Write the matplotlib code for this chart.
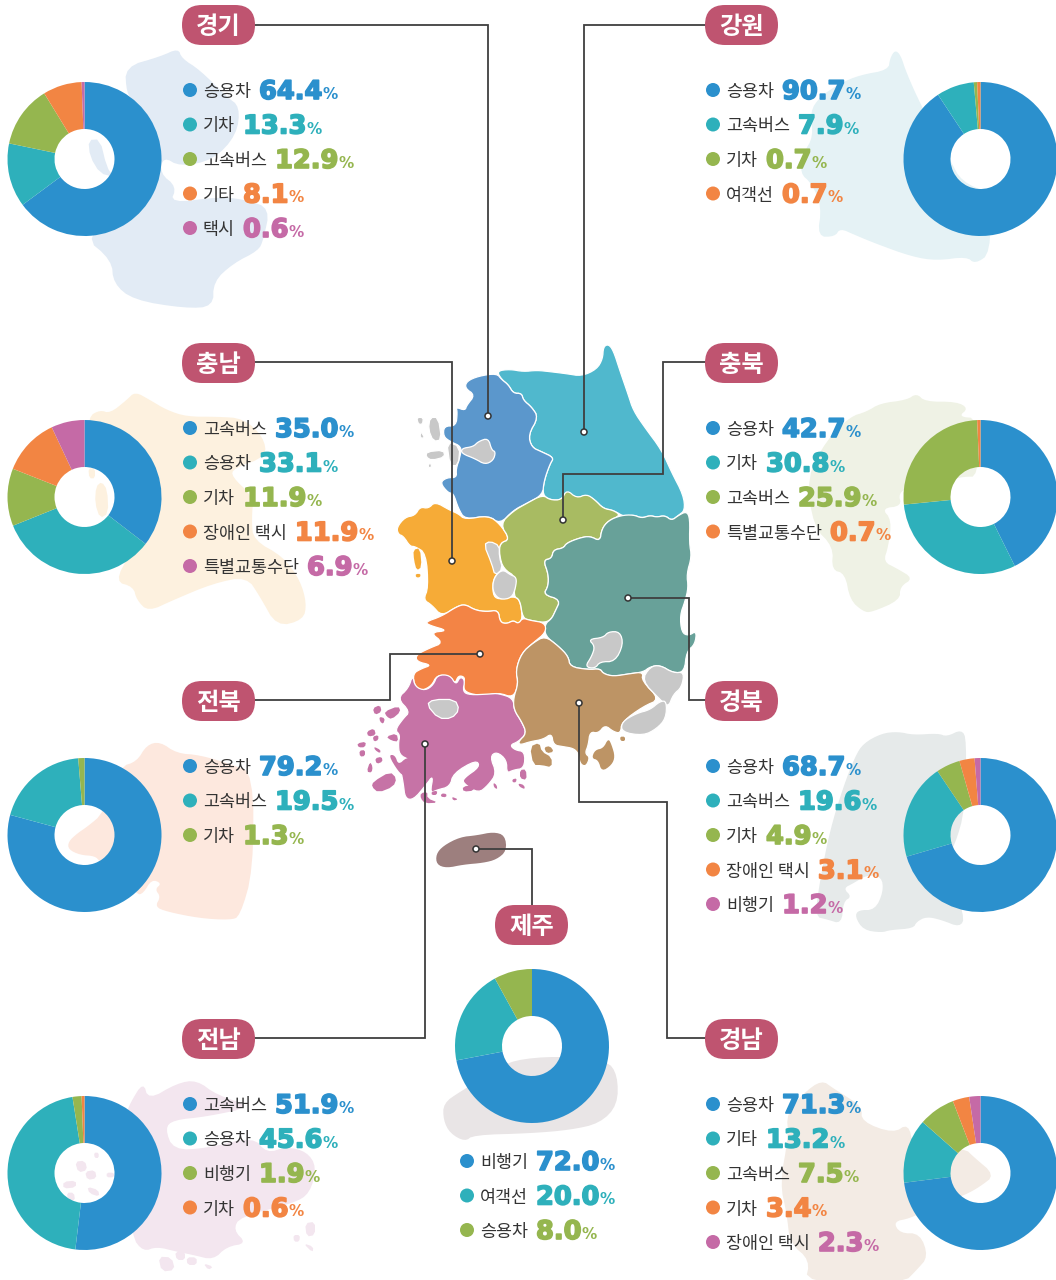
import matplotlib
matplotlib.use('Agg')
import matplotlib.pyplot as plt
from matplotlib.patches import Polygon, Circle, FancyBboxPatch
import matplotlib.patheffects as pe

plt.rcParams['font.family'] = ['Noto Sans CJK KR', 'DejaVu Sans']

W, H = 1056, 1280
palette = ['#2b90cd', '#2eb0bb', '#95b64f', '#f28543', '#c56aa6']

# chart data
gyeonggi_labels = ['승용차', '기차', '고속버스', '기타', '택시']
gyeonggi_values = [64.4, 13.3, 12.9, 8.1, 0.6]
gangwon_labels = ['승용차', '고속버스', '기차', '여객선']
gangwon_values = [90.7, 7.9, 0.7, 0.7]
chungnam_labels = ['고속버스', '승용차', '기차', '장애인 택시', '특별교통수단']
chungnam_values = [35.0, 33.1, 11.9, 11.9, 6.9]
chungbuk_labels = ['승용차', '기차', '고속버스', '특별교통수단']
chungbuk_values = [42.7, 30.8, 25.9, 0.7]
jeonbuk_labels = ['승용차', '고속버스', '기차']
jeonbuk_values = [79.2, 19.5, 1.3]
gyeongbuk_labels = ['승용차', '고속버스', '기차', '장애인 택시', '비행기']
gyeongbuk_values = [68.7, 19.6, 4.9, 3.1, 1.2]
jeonnam_labels = ['고속버스', '승용차', '비행기', '기차']
jeonnam_values = [51.9, 45.6, 1.9, 0.6]
gyeongnam_labels = ['승용차', '기타', '고속버스', '기차', '장애인 택시']
gyeongnam_values = [71.3, 13.2, 7.5, 3.4, 2.3]
jeju_labels = ['비행기', '여객선', '승용차']
jeju_values = [72.0, 20.0, 8.0]

fig = plt.figure(figsize=(W / 100, H / 100), dpi=100, facecolor='white')
ax = fig.add_axes([0, 0, 1, 1])
ax.set_xlim(0, W)
ax.set_ylim(H, 0)
ax.axis('off')
renderer = fig.canvas.get_renderer()


def crop(points, x0, y0, sy=1 / 3):
    # outlines were traced on 3x crops of the picture
    return [(x0 + x / 3, y0 + y * sy) for x, y in points]


def zoomed(points):
    return crop(points, 350, 340, 0.344)


def south(points):
    return crop(points, 350, 670)


def smooth(points, n=2):
    for _ in range(n):
        new = []
        for i in range(len(points)):
            x1, y1 = points[i]
            x2, y2 = points[(i + 1) % len(points)]
            new.append((0.75 * x1 + 0.25 * x2, 0.75 * y1 + 0.25 * y2))
            new.append((0.25 * x1 + 0.75 * x2, 0.25 * y1 + 0.75 * y2))
        points = new
    return points


def shape(points, color, edge='white', z=2):
    # small blobs lose too much area if they are rounded twice
    n = 1 if len(points) < 8 else 2
    ax.add_patch(Polygon(smooth(points, n), closed=True, facecolor=color, edgecolor=edge,
                         linewidth=0.9, joinstyle='round', zorder=z))


# pale region shapes behind the donuts
bg_shapes = [
    ('#e2ebf5', crop([(375, 200), (480, 170), (535, 145), (545, 175), (600, 210), (680, 290), (720, 320), (710, 405),
                      (640, 480), (540, 500), (490, 470), (480, 520), (530, 560), (510, 610), (660, 590), (740, 600),
                      (810, 625), (790, 720), (775, 752), (700, 790), (640, 845), (640, 920), (555, 925), (400, 900),
                      (340, 850), (335, 780), (250, 710), (400, 600), (400, 300), (380, 280)], 0, 0)),
    ('#e2ebf5', crop([(265, 420), (300, 418), (320, 500), (340, 530), (300, 520), (270, 470)], 0, 0)),
    ('#e5f2f5', crop([(330, 55), (345, 30), (362, 45), (378, 95), (420, 190), (510, 360), (545, 425), (630, 460), (632, 640),
                      (585, 672), (560, 650), (470, 662), (395, 650), (285, 610), (225, 585), (180, 565), (165, 590),
                      (112, 590), (125, 500), (95, 430), (60, 400), (70, 340), (100, 290), (90, 215), (120, 170),
                      (180, 130), (240, 105), (325, 90)], 780, 40)),
    ('#fdf1df', crop([(265, 110), (300, 90), (330, 100), (380, 60), (405, 35), (450, 60), (500, 90), (560, 110),
                      (650, 110), (730, 115), (790, 170), (800, 230), (700, 265), (695, 290), (760, 350), (755, 420),
                      (760, 480), (850, 530), (900, 600), (920, 670), (910, 720), (830, 740), (780, 650), (740, 590),
                      (640, 610), (520, 660), (445, 695), (410, 660), (400, 620), (345, 605), (390, 520), (350, 430),
                      (345, 300), (330, 250), (265, 200)], 0, 380)),
    ('#fdf1df', crop([(288, 320), (305, 305), (322, 330), (325, 400), (300, 415), (285, 370)], 0, 380)),
    ('#fdf1df', crop([(265, 265), (285, 265), (285, 295), (268, 295)], 0, 380)),
    ('#eff2e5', crop([(80, 180), (150, 110), (200, 95), (240, 70), (320, 60), (350, 40), (375, 65), (470, 65),
                      (505, 85), (475, 110), (535, 115), (535, 290), (490, 290), (450, 300), (330, 320), (295, 340),
                      (305, 378), (245, 385), (275, 420), (265, 500), (250, 545), (290, 565), (340, 595), (300, 620),
                      (300, 660), (215, 697), (190, 695), (150, 660), (135, 580), (95, 570), (100, 500), (40, 440),
                      (20, 290)], 800, 380)),
    ('#fde8de', crop([(360, 110), (410, 95), (440, 45), (480, 35), (530, 70), (600, 75), (700, 105), (760, 130),
                      (760, 420), (720, 560), (690, 570), (600, 565), (500, 545), (465, 530), (482, 500), (465, 478),
                      (485, 460), (455, 448), (430, 490), (410, 495), (340, 400), (300, 395), (285, 378), (240, 375),
                      (205, 358), (205, 335), (232, 310), (262, 290), (310, 250)], 0, 730)),
    ('#e6eaea', crop([(135, 110), (160, 70), (215, 40), (265, 35), (310, 45), (385, 40), (410, 50), (455, 28), (470, 60),
                      (465, 270), (435, 375), (405, 420), (465, 590), (450, 622), (395, 600), (350, 590), (320, 605),
                      (310, 625), (240, 630), (215, 638), (160, 630), (135, 590), (145, 570), (195, 570), (220, 515),
                      (215, 470), (170, 465), (130, 490), (100, 505), (125, 530), (100, 545), (95, 612), (50, 598),
                      (15, 590), (30, 480), (60, 330), (100, 200)], 810, 720)),
    ('#f3e6ef', crop([(390, 100), (430, 35), (445, 90), (530, 40), (590, 30), (650, 75), (760, 110), (620, 140),
                      (520, 150), (495, 175), (520, 240), (620, 235), (760, 200), (800, 250), (860, 230), (920, 245),
                      (950, 290), (930, 370), (880, 400), (720, 440), (700, 480), (740, 520), (680, 530), (640, 570),
                      (580, 555), (530, 545), (470, 530), (430, 545), (395, 500), (380, 300), (380, 130)], 0, 1070)),
    ('#f3ebe4', crop([(80, 130), (130, 70), (185, 30), (220, 55), (260, 80), (305, 110), (305, 155), (400, 190),
                      (445, 160), (460, 230), (615, 235), (640, 260), (705, 315), (660, 350), (615, 375), (500, 420),
                      (450, 445), (400, 455), (420, 490), (480, 490), (505, 560), (470, 600), (430, 640), (135, 640),
                      (150, 570), (90, 520), (80, 430), (60, 340), (85, 200)], 760, 1070)),
    ('#e9e5e6', crop([(40, 430), (90, 395), (200, 330), (250, 300), (380, 288), (530, 300), (563, 345), (563, 435),
                      (510, 490), (420, 510), (300, 520), (130, 525), (105, 545), (60, 520), (40, 480)], 430, 960)),
]
# small island blobs of the pale Jeonnam shape
jeonnam_bg_islands = [[(225, 275), (255, 272), (262, 300), (235, 308)], [(255, 305), (285, 300), (290, 325), (262, 330)],
                      [(190, 335), (228, 332), (228, 352), (190, 356)], [(262, 350), (295, 360), (298, 380), (268, 370)],
                      [(200, 368), (222, 368), (225, 392), (205, 392)], [(320, 308), (342, 308), (342, 322), (320, 322)],
                      [(282, 248), (296, 248), (296, 264), (284, 264)], [(475, 560), (515, 562), (525, 600), (485, 605)],
                      [(560, 562), (590, 562), (590, 585), (562, 585)], [(610, 580), (640, 590), (625, 600)],
                      [(525, 545), (555, 545), (555, 570), (530, 570)], [(880, 495), (900, 495), (898, 515), (882, 515)],
                      [(915, 460), (945, 455), (945, 495), (920, 500)], [(910, 520), (940, 530), (938, 548)]]
for color, pts in bg_shapes:
    shape(pts, color, edge='none', z=1)
for pts in jeonnam_bg_islands:
    shape(crop(pts, 0, 1070), '#f3e6ef', edge='none', z=1)

# map regions
gangwon_shape = [(440, 90), (480, 85), (520, 92), (560, 88), (600, 92), (650, 98), (695, 105), (740, 85), (758, 55),
                 (760, 20), (775, 12), (790, 30), (810, 90), (835, 160), (850, 205), (885, 255), (935, 320), (965, 385),
                 (1000, 450), (1005, 495), (985, 510), (965, 525), (945, 510), (920, 515), (900, 510), (875, 518),
                 (850, 508), (825, 515), (790, 495), (760, 490), (735, 465), (710, 450), (680, 460), (650, 440),
                 (635, 465), (600, 465), (578, 450), (582, 410), (600, 360), (612, 342), (575, 325), (545, 312),
                 (535, 275), (565, 225), (545, 195), (520, 175), (515, 155), (490, 155), (475, 130), (455, 115)]
gyeonggi_shape = [(440, 97), (455, 115), (475, 130), (490, 155), (515, 155), (520, 175), (545, 195), (565, 225),
                  (535, 275), (545, 312), (575, 325), (612, 342), (600, 360), (582, 410), (578, 450), (530, 475),
                  (490, 495), (450, 535), (415, 510), (345, 522), (325, 490), (310, 445), (295, 445), (270, 415),
                  (290, 400), (320, 400), (318, 375), (330, 340), (335, 310), (300, 295), (280, 280), (282, 250),
                  (318, 250), (322, 210), (318, 195), (345, 205), (350, 190), (375, 160), (345, 140), (350, 120), (385, 105)]
chungnam_shape = [(140, 545), (165, 515), (195, 510), (210, 485), (235, 490), (255, 470), (300, 495), (325, 505),
                  (345, 522), (415, 510), (450, 535), (480, 580), (450, 590), (447, 625), (460, 665), (430, 690),
                  (428, 740), (445, 755), (490, 745), (510, 755), (518, 810), (505, 825), (490, 815), (470, 825),
                  (450, 820), (445, 785), (410, 790), (375, 785), (345, 768), (320, 775), (275, 803), (245, 770),
                  (220, 755), (235, 720), (228, 620), (195, 600), (180, 600), (160, 570), (145, 565)]
chungbuk_shape = [(450, 535), (490, 497), (530, 475), (578, 450), (600, 465), (635, 465), (650, 435), (680, 460),
                  (710, 448), (735, 465), (760, 490), (790, 495), (812, 510), (775, 525), (755, 550), (750, 585),
                  (720, 570), (690, 575), (650, 590), (640, 605), (610, 610), (605, 635), (580, 640), (595, 680),
                  (595, 715), (580, 740), (632, 755), (615, 790), (605, 810), (585, 822), (540, 815), (518, 808),
                  (510, 755), (490, 745), (500, 690), (460, 665), (448, 625), (450, 590), (480, 580)]
gyeongbuk_shape = [(812, 510), (850, 508), (875, 518), (900, 510), (920, 515), (945, 510), (965, 525), (985, 510),
                   (1010, 498), (1020, 520), (1018, 590), (1025, 630), (1010, 680), (1015, 720), (1005, 760), (990, 800),
                   (995, 850), (1015, 860), (1040, 845), (1035, 885), (1010, 905), (1003, 965), (970, 968), (930, 945),
                   (900, 950), (880, 965), (840, 970), (790, 978), (760, 970), (750, 955), (715, 958), (660, 950),
                   (655, 920), (625, 890), (585, 860), (585, 825), (605, 810), (615, 790), (632, 755), (580, 740),
                   (595, 715), (595, 680), (580, 640), (605, 635), (610, 610), (640, 605), (650, 590), (690, 575),
                   (720, 570), (750, 585), (755, 550), (775, 525)]
jeonbuk_shape = [(225, 820), (275, 803), (320, 775), (345, 768), (375, 785), (410, 790), (445, 785), (450, 820),
                 (470, 825), (490, 815), (505, 825), (518, 808), (540, 815), (585, 822), (588, 850), (550, 880),
                 (515, 910), (497, 960), (505, 1000), (490, 1040), (445, 1025), (400, 1035), (345, 1025), (340, 1000),
                 (345, 980), (325, 975), (315, 1000), (295, 975), (260, 975), (245, 1005), (215, 1020), (195, 1010),
                 (188, 970), (215, 955), (245, 945), (200, 935), (198, 915), (240, 895), (280, 880), (240, 850),
                 (295, 845), (240, 830)]
jeonnam_shape = [(188, 15), (195, 50), (225, 62), (250, 45), (262, 15), (300, 15), (318, 45), (330, 20), (345, 30),
                 (338, 65), (360, 75), (420, 72), (445, 70), (490, 85), (492, 120), (515, 155), (530, 190), (505, 215),
                 (480, 225), (495, 240), (525, 245), (523, 295), (490, 300), (470, 310), (470, 270), (440, 245),
                 (420, 260), (440, 310), (415, 345), (385, 370), (340, 340), (340, 325), (390, 290), (378, 270),
                 (310, 310), (300, 350), (260, 360), (240, 370), (250, 315), (228, 345), (190, 390), (165, 385),
                 (160, 340), (150, 290), (180, 270), (148, 255), (145, 220), (150, 195), (135, 180), (160, 145),
                 (180, 125), (142, 85), (175, 55)]
gyeongnam_shape = [(585, -102), (625, -72), (655, -41), (660, -10), (715, -1), (750, -4), (760, 11), (790, 19),
                   (840, 11), (880, 6), (875, 32), (930, 88), (880, 109), (815, 156), (812, 190), (790, 185),
                   (765, 165), (745, 190), (720, 185), (715, 225), (705, 250), (720, 262), (708, 290), (690, 282),
                   (685, 250), (670, 235), (640, 230), (610, 225), (605, 190), (580, 208), (540, 215), (510, 225),
                   (505, 215), (530, 190), (515, 155), (492, 120), (490, 85), (505, 40), (497, 1), (515, -51), (550, -82)]
jeju_shape = [(258, 1495), (280, 1470), (330, 1445), (380, 1440), (430, 1430), (465, 1440), (470, 1485), (440, 1510),
              (400, 1520), (340, 1525), (290, 1535), (260, 1525)]

shape(zoomed(gangwon_shape), '#50b8cd')
shape(zoomed(gyeonggi_shape), '#5b97cc')
shape(zoomed(chungnam_shape), '#f6ab37')
shape(zoomed(chungbuk_shape), '#a8bb62')
shape(zoomed(gyeongbuk_shape), '#68a199')
shape(zoomed(jeonbuk_shape), '#f38445')
shape(south(jeonnam_shape), '#c673a6')
shape(south(gyeongnam_shape), '#bd9465')
shape(zoomed(jeju_shape), '#9d7f7e', edge='none')

# cities and grey islands
grey_shapes = [
    [(335, 315), (370, 310), (385, 295), (415, 285), (425, 320), (437, 325), (430, 350), (405, 362), (375, 345), (335, 330)],
    [(290, 295), (330, 310), (325, 365), (300, 365)],
    [(240, 225), (265, 225), (275, 290), (250, 295), (235, 260)],
    [(200, 225), (220, 225), (218, 245), (205, 245)],
    [(212, 265), (225, 285), (210, 285)],
    [(230, 325), (280, 320), (285, 340), (245, 350), (228, 340)],
    [(235, 360), (245, 360), (243, 372), (235, 370)],
    [(402, 595), (420, 585), (448, 598), (448, 630), (458, 665), (435, 685), (425, 650)],
    [(440, 680), (460, 668), (480, 682), (500, 690), (497, 720), (485, 750), (450, 755), (430, 735), (428, 705)],
    [(715, 870), (760, 865), (775, 848), (810, 848), (820, 885), (795, 935), (750, 935), (735, 955), (705, 950), (725, 920), (735, 890)],
    [(875, 990), (900, 950), (930, 945), (970, 968), (1003, 965), (995, 1010), (970, 1030), (955, 1068), (930, 1045)],
    [(815, 1110), (860, 1085), (900, 1075), (930, 1050), (950, 1050), (948, 1100), (920, 1130), (880, 1150), (815, 1140)],
    [(230, 1060), (250, 1045), (315, 1045), (328, 1075), (305, 1100), (265, 1100)],
]
for pts in grey_shapes:
    shape(zoomed(pts), '#c8c8c8', z=3)

for pts in [[(190, 610), (210, 605), (215, 660), (200, 670), (192, 640)],
            [(197, 680), (212, 680), (210, 690), (198, 690)]]:
    shape(zoomed(pts), '#f6ab37', edge='none')

jeonnam_islands = [[(68, 115), (90, 105), (95, 125), (75, 135)], [(103, 125), (145, 108), (152, 125), (125, 148), (110, 140)],
                   [(88, 140), (105, 145), (100, 162), (90, 155)], [(50, 185), (72, 175), (78, 195), (55, 200)],
                   [(68, 200), (85, 195), (85, 210), (72, 215)], [(108, 200), (140, 190), (145, 215), (125, 212)],
                   [(22, 220), (48, 215), (45, 232), (25, 232)], [(28, 242), (45, 240), (45, 258), (30, 260)],
                   [(72, 230), (92, 240), (90, 250), (75, 240)], [(75, 265), (95, 260), (98, 275), (80, 282)],
                   [(60, 275), (68, 290), (65, 308), (50, 305)],
                   [(115, 255), (135, 255), (145, 285), (170, 262), (180, 272), (160, 290), (165, 320), (145, 305)],
                   [(70, 335), (120, 305), (140, 325), (130, 350), (85, 368), (65, 350)],
                   [(212, 370), (232, 365), (232, 385), (265, 398), (225, 400), (212, 385)],
                   [(245, 365), (262, 362), (260, 375), (245, 375)], [(275, 370), (290, 372), (288, 382), (272, 380)],
                   [(305, 380), (325, 388), (310, 392)], [(338, 350), (370, 345), (372, 362), (340, 365)],
                   [(430, 338), (440, 345), (442, 358), (432, 352)], [(487, 328), (500, 325), (498, 337), (488, 337)],
                   [(510, 300), (528, 298), (530, 330), (510, 325)], [(505, 340), (522, 345), (525, 358), (508, 350)]]
for pts in jeonnam_islands:
    shape(south(pts), '#c673a6', edge='none')

gyeongnam_islands = [[(540, 230), (568, 218), (575, 245), (605, 262), (605, 292), (575, 285), (550, 285)],
                     [(582, 232), (600, 228), (612, 245), (590, 250)],
                     [(735, 240), (760, 235), (775, 205), (785, 225), (795, 260), (785, 285), (755, 305), (745, 270), (725, 265)],
                     [(810, 200), (825, 200), (825, 213), (812, 213)]]
for pts in gyeongnam_islands:
    shape(south(pts), '#bd9465', edge='none')

# leader lines, ending in a white dot on the region
leaders = [
    [(255, 25), (488, 25), (488, 416)],
    [(706, 25), (584, 25), (584, 432)],
    [(255, 362), (452, 362), (452, 561)],
    [(706, 362), (663, 362), (663, 474), (563, 474), (563, 520)],
    [(255, 700), (390, 700), (390, 654), (480, 654)],
    [(706, 700), (689, 700), (689, 598), (628, 598)],
    [(255, 1038), (425, 1038), (425, 744)],
    [(706, 1038), (667, 1038), (667, 802), (579, 802), (579, 703)],
    [(532, 905), (532, 849), (476, 849)],
]
for pts in leaders:
    xs = [p[0] for p in pts]
    ys = [p[1] for p in pts]
    ax.plot(xs, ys, color='#3f3f3f', lw=1.3, zorder=5, solid_joinstyle='miter')
    ax.add_patch(Circle(pts[-1], 3, facecolor='white', edgecolor='#333333', lw=1.1, zorder=6))


def badge(x, y, name):
    ax.add_patch(FancyBboxPatch((x + 10, y + 10), 53, 20, boxstyle='round,pad=10,rounding_size=20',
                                linewidth=0, facecolor='#bf5470', zorder=7))
    ax.text(x + 36.5, y + 21.5, name, color='white', fontsize=17.5, fontweight='bold',
            ha='center', va='center', zorder=8)


def legend(x, y, labels, values):
    for i, (label, value) in enumerate(zip(labels, values)):
        c = palette[i]
        yy = y + i * 34.5
        ax.add_patch(Circle((x, yy), 7, facecolor=c, edgecolor='none', zorder=7))
        t = ax.text(x + 13, yy + 7, label, color='#333333', fontsize=12.5, ha='left', va='baseline', zorder=8)
        end = t.get_window_extent(renderer).x1
        stroke = [pe.withStroke(linewidth=1.2, foreground=c)]
        t2 = ax.text(end + 8, yy + 9, f'{value:.1f}', color=c, fontsize=18.5, fontweight='bold',
                     family='DejaVu Sans', ha='left', va='baseline', zorder=8, path_effects=stroke)
        end2 = t2.get_window_extent(renderer).x1
        ax.text(end2, yy + 9, '%', color=c, fontsize=11, fontweight='bold',
                family='DejaVu Sans', ha='left', va='baseline', zorder=8)


def donut(cx, cy, values, r=77, hole=30):
    pie_ax = fig.add_axes([(cx - r) / W, 1 - (cy + r) / H, 2 * r / W, 2 * r / H], zorder=4)
    pie_ax.patch.set_alpha(0)
    pie_ax.pie(values, colors=palette, startangle=90, counterclock=False, radius=1,
               wedgeprops={'width': 1 - hole / r, 'linewidth': 0})
    pie_ax.set_xlim(-1, 1)
    pie_ax.set_ylim(-1, 1)


regions = [
    ('경기', 182, 5, 190, 90, 84.5, 159, gyeonggi_labels, gyeonggi_values),
    ('강원', 705, 5, 713, 90, 980.5, 159, gangwon_labels, gangwon_values),
    ('충남', 182, 343, 190, 428, 84.5, 497, chungnam_labels, chungnam_values),
    ('충북', 705, 343, 713, 428, 980.5, 497, chungbuk_labels, chungbuk_values),
    ('전북', 182, 681, 190, 766, 84.5, 835, jeonbuk_labels, jeonbuk_values),
    ('경북', 705, 681, 713, 766, 980.5, 835, gyeongbuk_labels, gyeongbuk_values),
    ('전남', 182, 1019, 190, 1104, 84.5, 1173, jeonnam_labels, jeonnam_values),
    ('경남', 705, 1019, 713, 1104, 980.5, 1173, gyeongnam_labels, gyeongnam_values),
    ('제주', 495, 905, 467, 1161, 532, 1046, jeju_labels, jeju_values),
]
for name, bx, by, lx, ly, cx, cy, labels, values in regions:
    badge(bx, by, name)
    legend(lx, ly, labels, values)
    donut(cx, cy, values)

fig.savefig('out.png', dpi=100)
